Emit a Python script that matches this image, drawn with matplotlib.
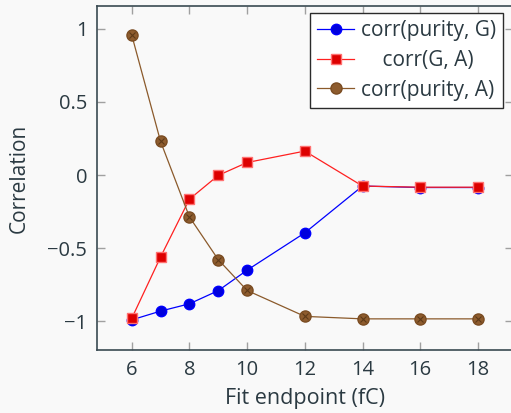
import matplotlib
matplotlib.use('Agg')
import matplotlib.pyplot as plt
from matplotlib.lines import Line2D

x = [6, 7, 8, 9, 10, 12, 14, 16, 18]
purity_g = [-0.99, -0.93, -0.88, -0.79, -0.65, -0.395, -0.075, -0.085, -0.085]
g_a = [-0.98, -0.56, -0.165, -0.002, 0.086, 0.164, -0.075, -0.083, -0.083]
purity_a = [0.958, 0.23, -0.286, -0.578, -0.789, -0.966, -0.983, -0.983, -0.983]

txt = '#2b3a42'
bg = '#f9f9f9'
plt.rcParams['font.family'] = ['Open Sans', 'DejaVu Sans']

fig = plt.figure(figsize=(5.11, 4.13), dpi=100, facecolor=bg)
ax = fig.add_axes([0.19, 0.1525, 0.813, 0.833])
ax.set_facecolor(bg)

ax.plot(x, purity_g, color='#0000ff', lw=0.9, marker='o', ms=7.5,
        mfc='#0000dd', mec='#0000ff')
ax.plot(x, g_a, color='#ff2020', lw=0.9, marker='s', ms=7.5,
        mfc='#dd0000', mec='#ff7070')
brown = '#8b5a2b'
ax.plot(x, purity_a, color=brown, lw=0.9, marker='o', ms=8,
        mfc='#8e5c2e', mec='#7a4c22')
ax.plot(x, purity_a, ls='none', marker='x', ms=5, mec='#5e3a18', mew=0.8)

ax.set_xlim(4.8, 19.2)
ax.set_ylim(-1.196, 1.156)
ax.set_xticks([6, 8, 10, 12, 14, 16, 18])
ax.set_yticks([-1, -0.5, 0, 0.5, 1])
ax.set_yticklabels(['\u22121', '\u22120.5', '0', '0.5', '1'])
ax.tick_params(direction='in', length=6, width=1, color='#a0a0a0',
               labelcolor=txt, labelsize=14.5, top=True, right=True, pad=7)
for s in ax.spines.values():
    s.set_color('#3a4a52')
    s.set_linewidth(1.2)

ax.set_xlabel('Fit endpoint (fC)', fontsize=15.5, color=txt, labelpad=6)
ax.set_ylabel('Correlation', fontsize=15, color=txt, labelpad=13)

handles = [
    Line2D([], [], color='#0000ff', lw=0.9, marker='o', ms=7.5, mfc='#0000dd', mec='#0000ff'),
    Line2D([], [], color='#ff2020', lw=0.9, marker='s', ms=7.5, mfc='#dd0000', mec='#ff7070'),
    Line2D([], [], color=brown, lw=0.9, marker='o', ms=8, mfc='#8e5c2e', mec='#7a4c22'),
]
labels = ['corr(purity, G)', '    corr(G, A)', 'corr(purity, A)']
leg = ax.legend(handles, labels, loc='upper right', bbox_to_anchor=(0.977, 0.98),
                borderaxespad=0, fontsize=15, frameon=True, fancybox=False,
                handlelength=1.8, handletextpad=0.3, labelspacing=0.42,
                borderpad=0.35, framealpha=1)
leg.get_frame().set_edgecolor('#2b2b2b')
leg.get_frame().set_linewidth(1.0)
leg.get_frame().set_facecolor('white')
for t in leg.get_texts():
    t.set_color(txt)

fig.savefig('out.png', dpi=100, facecolor=bg)
